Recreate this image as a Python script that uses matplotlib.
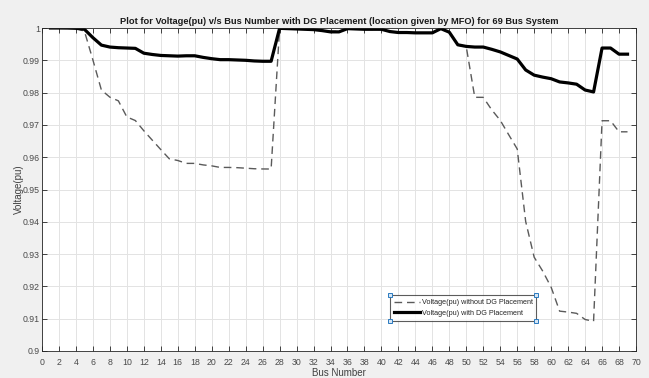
import matplotlib
matplotlib.use("Agg")
import matplotlib.pyplot as plt
from matplotlib.lines import Line2D

plt.rcParams['font.family'] = ['Liberation Sans', 'DejaVu Sans']

bus = list(range(1, 70))
v_without_dg = [1.0000, 0.99997, 0.99993, 0.99984, 0.99902, 0.99009, 0.98079, 0.97858, 0.97745, 0.97245,
                0.97135, 0.96819, 0.96526, 0.96236, 0.95951, 0.95898, 0.95809, 0.95808, 0.95761, 0.95732,
                0.95683, 0.95683, 0.95676, 0.95660, 0.95643, 0.95636, 0.95634, 0.99993, 0.99985, 0.99973,
                0.99971, 0.99961, 0.99935, 0.99901, 0.99895, 0.99992, 0.99975, 0.99959, 0.99954, 0.99954,
                0.99884, 0.99855, 0.99851, 0.99850, 0.99841, 0.99840, 0.99979, 0.99854, 0.99470, 0.99415,
                0.97854, 0.97853, 0.97466, 0.97142, 0.96695, 0.96256, 0.94008, 0.92904, 0.92476, 0.91974,
                0.91234, 0.91205, 0.91166, 0.90976, 0.90919, 0.97129, 0.97129, 0.96786, 0.96786]
v_with_dg = [1.0000, 1.0000, 0.99998, 0.9999, 0.9996, 0.9970, 0.9947, 0.9941, 0.9939, 0.9938,
             0.9937, 0.9922, 0.9918, 0.9915, 0.9914, 0.9913, 0.9914, 0.9914, 0.9909, 0.9905,
             0.9902, 0.9902, 0.9901, 0.9900, 0.9898, 0.9897, 0.9897, 0.9999, 0.9998, 0.9997,
             0.9996, 0.9995, 0.9992, 0.9988, 0.9988, 0.9998, 0.9997, 0.9996, 0.9996, 0.9996,
             0.9989, 0.9986, 0.9986, 0.9985, 0.9985, 0.9985, 0.9998, 0.9987, 0.9948, 0.9943,
             0.9941, 0.9941, 0.9934, 0.9926, 0.9915, 0.9904, 0.9870, 0.9854, 0.9848, 0.9843,
             0.9833, 0.9830, 0.9826, 0.9808, 0.9802, 0.9938, 0.9938, 0.9919, 0.9919]

xticks = list(range(0, 71, 2))
yticks = [0.90, 0.91, 0.92, 0.93, 0.94, 0.95, 0.96, 0.97, 0.98, 0.99, 1.00]
yticklabels = ['0.9', '0.91', '0.92', '0.93', '0.94', '0.95', '0.96', '0.97', '0.98', '0.99', '1']

fig = plt.figure(figsize=(6.49, 3.78), dpi=100, facecolor='#f0f0f0')
ax = fig.add_axes([42/649, 1-351/378, (636-42)/649, (351-28)/378])
ax.set_facecolor('white')

ax.plot(bus, v_without_dg, linestyle=(0, (5.5, 3.5)), color='#5a5a5a', linewidth=1.0,
        label='Voltage(pu) without DG Placement')
ax.plot(bus, v_with_dg, linestyle='-', color='black', linewidth=2.3,
        label='Voltage(pu) with DG Placement')

ax.set_xlim(0, 70)
ax.set_ylim(0.9, 1.0)
ax.set_xticks(xticks)
ax.set_yticks(yticks)
ax.set_yticklabels(yticklabels)
ax.grid(True, color='#e3e3e3', linewidth=0.7)
ax.set_axisbelow(True)
ax.tick_params(direction='in', length=3.5, width=0.6, top=True, right=True,
               labelsize=6.3, colors='#262626', labelcolor='#4a4a4a')
ax.tick_params(axis='y', pad=1.5)
ax.tick_params(axis='x', pad=5)
for s in ax.spines.values():
    s.set_color('#262626')
    s.set_linewidth(0.6)

ax.set_title('Plot for Voltage(pu) v/s Bus Number with DG Placement (location given by MFO) for 69 Bus System',
             fontsize=6.7, fontweight='bold', color='#1a1a1a', pad=3)
ax.set_xlabel('Bus Number', fontsize=7, color='#404040', labelpad=1)
ax.set_ylabel('Voltage(pu)', fontsize=7, color='#404040', labelpad=-1)

leg = ax.legend(loc='lower left', bbox_to_anchor=(0.586, 0.094),
                fontsize=5.2, frameon=True, fancybox=False, edgecolor='#333333',
                borderpad=0.55, labelspacing=0.45, handlelength=3.6, handletextpad=0.2,
                borderaxespad=0)
leg.get_frame().set_linewidth(0.8)
for t in leg.get_texts():
    t.set_color('#262626')

fig.canvas.draw()
bb = leg.get_window_extent().transformed(fig.transFigure.inverted())
cx = [bb.x0, bb.x1, bb.x0, bb.x1]
cy = [bb.y0, bb.y0, bb.y1, bb.y1]
fig.add_artist(Line2D(cx, cy, transform=fig.transFigure, linestyle='none', marker='s',
                      markersize=3.2, markerfacecolor='#d6e6f5', markeredgecolor='#2a7ac0',
                      markeredgewidth=0.7))

fig.savefig('out.png', dpi=100, facecolor=fig.get_facecolor())
